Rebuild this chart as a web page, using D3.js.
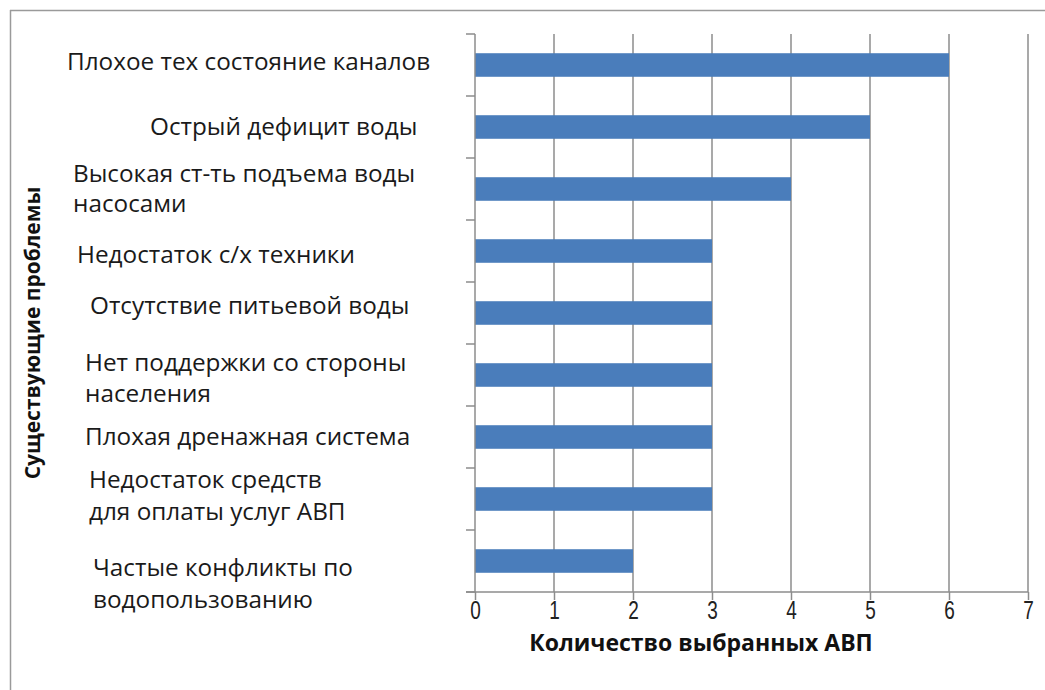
<!DOCTYPE html>
<html>
<head>
<meta charset="utf-8">
<script src="https://cdn.jsdelivr.net/npm/d3@7/dist/d3.min.js"></script>
<style>
  html, body { margin: 0; padding: 0; background: #fff; }
  svg { display: block; }
</style>
</head>
<body>
<svg id="chart" width="1045" height="690"></svg>
<script>
// Problems reported by water user associations (top to bottom)
const problems = [
  ["Плохое тех состояние каналов"],
  ["Острый дефицит воды"],
  ["Высокая ст-ть подъема воды", "насосами"],
  ["Недостаток с/х техники"],
  ["Отсутствие питьевой воды"],
  ["Нет поддержки со стороны", "населения"],
  ["Плохая дренажная система"],
  ["Недостаток средств", "для оплаты услуг АВП"],
  ["Частые конфликты по", "водопользованию"]
];
// Number of associations that chose each problem
const counts = [6, 5, 4, 3, 3, 3, 3, 3, 2];
const xTicks = [0, 1, 2, 3, 4, 5, 6, 7];
const xTitle = "Количество выбранных АВП";
const yTitle = "Существующие проблемы";

// Label placement inside each band: left x and baseline offsets of each line
const labelLayout = [
  { x: 67, dy: [5] },
  { x: 150, dy: [8] },
  { x: 73, dy: [-7, 23] },
  { x: 77, dy: [12] },
  { x: 90, dy: [1] },
  { x: 85, dy: [-4, 27] },
  { x: 85, dy: [8] },
  { x: 89, dy: [-11, 21] },
  { x: 93, dy: [15, 47] }
];

const svg = d3.select("#chart");
const W = 1045, H = 690;
const plotL = 475, plotR = 1028, plotT = 34, plotB = 592;

// outer frame
svg.append("line").attr("x1", 10).attr("x2", W).attr("y1", 10.5).attr("y2", 10.5)
  .attr("stroke", "#9a9a9a").attr("stroke-width", 1.5);
svg.append("line").attr("x1", 10.5).attr("x2", 10.5).attr("y1", 10).attr("y2", H)
  .attr("stroke", "#9a9a9a").attr("stroke-width", 1.5);

const x = d3.scaleLinear().domain([0, 7]).range([plotL, plotR]);
const y = d3.scaleBand().domain(d3.range(problems.length)).range([plotT, plotB]).paddingInner(0.62).paddingOuter(0.31);
const yb = d3.scaleBand().domain(d3.range(problems.length)).range([plotT, plotB]);

// vertical gridlines
svg.append("g").selectAll("line").data(xTicks.slice(1)).join("line")
  .attr("x1", d => x(d)).attr("x2", d => x(d))
  .attr("y1", plotT).attr("y2", plotB)
  .attr("stroke", "#8c8c8c").attr("stroke-width", 1.5);

// bars
svg.append("g").selectAll("rect").data(counts).join("rect")
  .attr("x", x(0)).attr("y", (d, i) => y(i))
  .attr("width", d => x(d) - x(0)).attr("height", y.bandwidth())
  .attr("fill", "#4a7dbb");

// y axis with category boundary ticks
const yAxisG = svg.append("g");
yAxisG.append("line").attr("x1", plotL).attr("x2", plotL).attr("y1", plotT).attr("y2", plotB)
  .attr("stroke", "#8c8c8c").attr("stroke-width", 1.5);
yAxisG.selectAll("line.tk").data(d3.range(problems.length + 1)).join("line").attr("class", "tk")
  .attr("x1", plotL - 9).attr("x2", plotL)
  .attr("y1", i => plotT + i * yb.step()).attr("y2", i => plotT + i * yb.step())
  .attr("stroke", "#8c8c8c").attr("stroke-width", 1.5);

// x axis
const xAxis = d3.axisBottom(x).tickValues(xTicks).tickFormat(d3.format("d")).tickSize(8).tickPadding(1);
const xg = svg.append("g").attr("transform", `translate(0,${plotB})`).call(xAxis);
xg.select(".domain").attr("stroke", "#8c8c8c").attr("stroke-width", 1.5)
  .attr("d", `M${plotL - 9},0H${plotR}`);
xg.selectAll(".tick line").attr("stroke", "#8c8c8c").attr("stroke-width", 1.5);
xg.selectAll(".tick text")
  .attr("font-family", "'Liberation Sans', Arial, sans-serif")
  .attr("font-size", 25).attr("fill", "#222")
  .attr("transform", "scale(0.76,1)");

// category labels
const lab = svg.append("g")
  .attr("font-family", "'Open Sans', 'Noto Sans', sans-serif")
  .attr("font-size", 24.3).attr("fill", "#1a1a1a");
problems.forEach((lines, i) => {
  const cy = yb(i) + yb.step() / 2;
  const t = lab.append("text");
  lines.forEach((ln, k) => {
    t.append("tspan").attr("x", labelLayout[i].x)
      .attr("y", cy + labelLayout[i].dy[k])
      .text(ln);
  });
});

// axis titles
svg.append("text").attr("x", 701).attr("y", 651).attr("text-anchor", "middle")
  .attr("font-family", "'Open Sans', 'Noto Sans', sans-serif").attr("font-weight", "bold")
  .attr("font-size", 23).attr("fill", "#111").text(xTitle);
svg.append("text").attr("transform", "translate(40,333) rotate(-90)").attr("text-anchor", "middle")
  .attr("font-family", "'Open Sans', 'Noto Sans', sans-serif").attr("font-weight", "bold")
  .attr("font-size", 21).attr("fill", "#111").text(yTitle);
</script>
</body>
</html>
